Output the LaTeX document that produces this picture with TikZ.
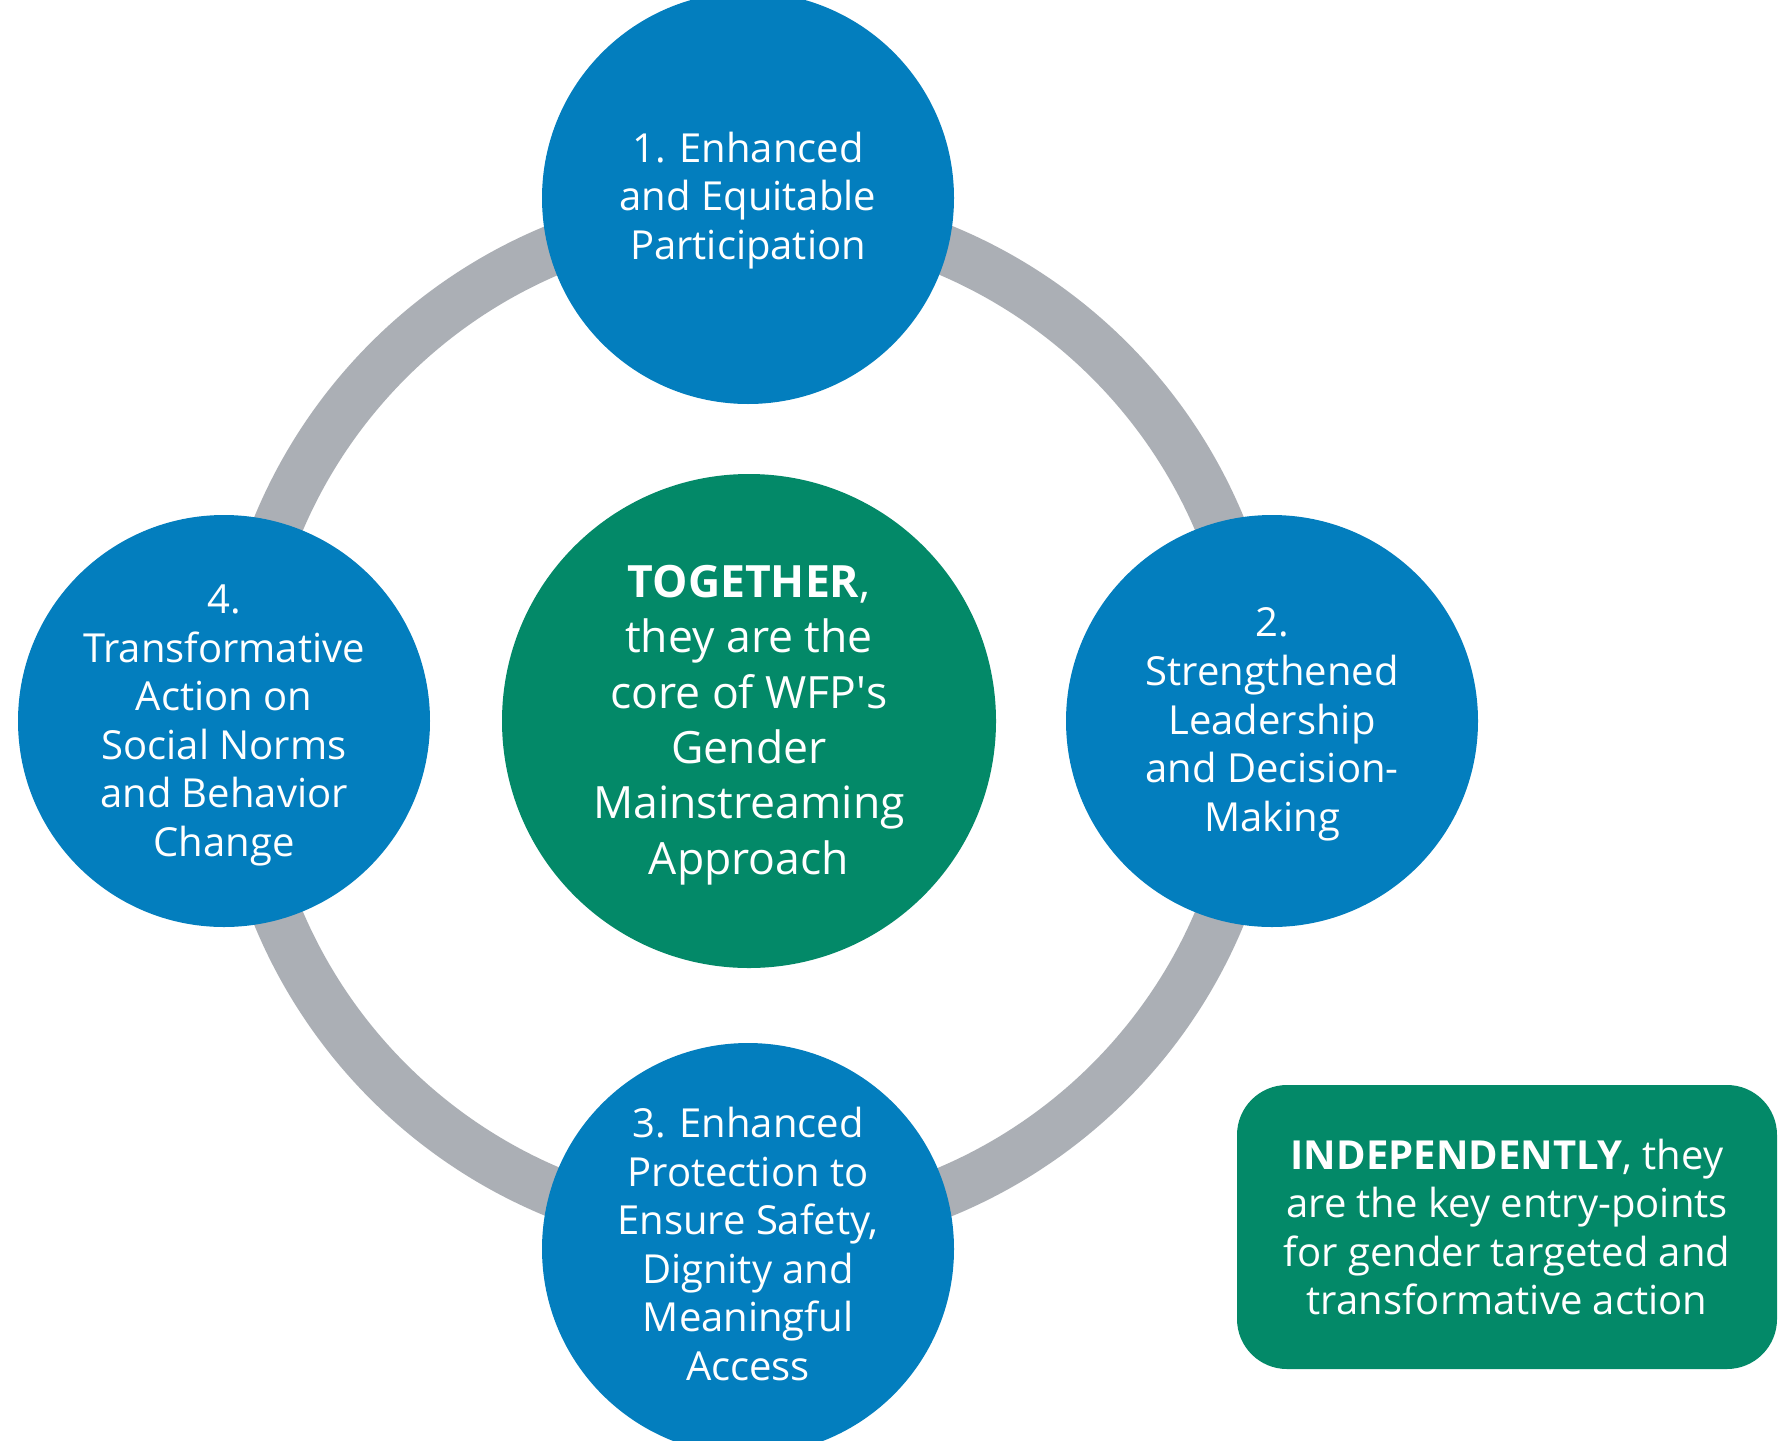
\documentclass[tikz,border=0pt]{standalone}
\usepackage{fontspec}
\setmainfont{Open Sans}
\definecolor{wfpblue}{RGB}{3,126,190}
\definecolor{wfpgreen}{RGB}{3,137,104}
\definecolor{ringgray}{RGB}{171,175,181}
\tikzset{
  pillar/.style={circle, fill=wfpblue, minimum size=412pt, inner sep=0pt},
  pillartext/.style={text=white, inner sep=0pt, align=center, font=\fontsize{40}{48.6}\selectfont},
  corecircle/.style={circle, fill=wfpgreen, minimum size=494pt, inner sep=0pt},
  coretext/.style={text=white, inner sep=0pt, align=center, font=\fontsize{44.5}{55.4}\selectfont},
  notebox/.style={rounded corners=50pt, fill=wfpgreen, text=white, minimum width=540pt, minimum height=284pt,
    inner sep=0pt, align=center, font=\fontsize{40}{48.3}\selectfont},
  ring/.style={draw=ringgray, line width=50pt}
}
\begin{document}
\begin{tikzpicture}[x=1pt,y=-1pt]
\useasboundingbox (0,0) rectangle (1782,1440);
\clip (0,0) rectangle (1782,1440);
\fill[white] (0,0) rectangle (1782,1440);
\coordinate (mid) at (749,721);
\draw[ring] (mid) circle[radius=510pt];
\node[corecircle] (core) at (749,721) {};
\node[coretext] (coret) at ([yshift=-4pt]core.center) {\textbf{TOGETHER},\\they are the\\core of WFP\textquotesingle s\\Gender\\Mainstreaming\\Approach};
\node[pillar] (p1) at (748,198) {};
\node[pillartext] (p1t) at ([yshift=-2.3pt]p1.center) {1. Enhanced\\and Equitable\\Participation};
\node[pillar] (p2) at (1272,721) {};
\node[pillartext] (p2t) at ([yshift=-3.4pt]p2.center) {2.\\Strengthened\\Leadership\\and Decision-\\Making};
\node[pillar] (p3) at (748,1249) {};
\node[pillartext] (p3t) at ([yshift=5pt]p3.center) {3. Enhanced\\Protection to\\Ensure Safety,\\Dignity and\\Meaningful\\Access};
\node[pillar] (p4) at (224,721) {};
\node[pillartext] (p4t) at ([yshift=-4.5pt]p4.center) {4.\\Transformative\\Action on\\Social Norms\\and Behavior\\Change};
\node[notebox] (note) at (1507,1227) {\textbf{INDEPENDENTLY}, they\\are the key entry-points\\for gender targeted and\\transformative action};
\end{tikzpicture}
\end{document}
